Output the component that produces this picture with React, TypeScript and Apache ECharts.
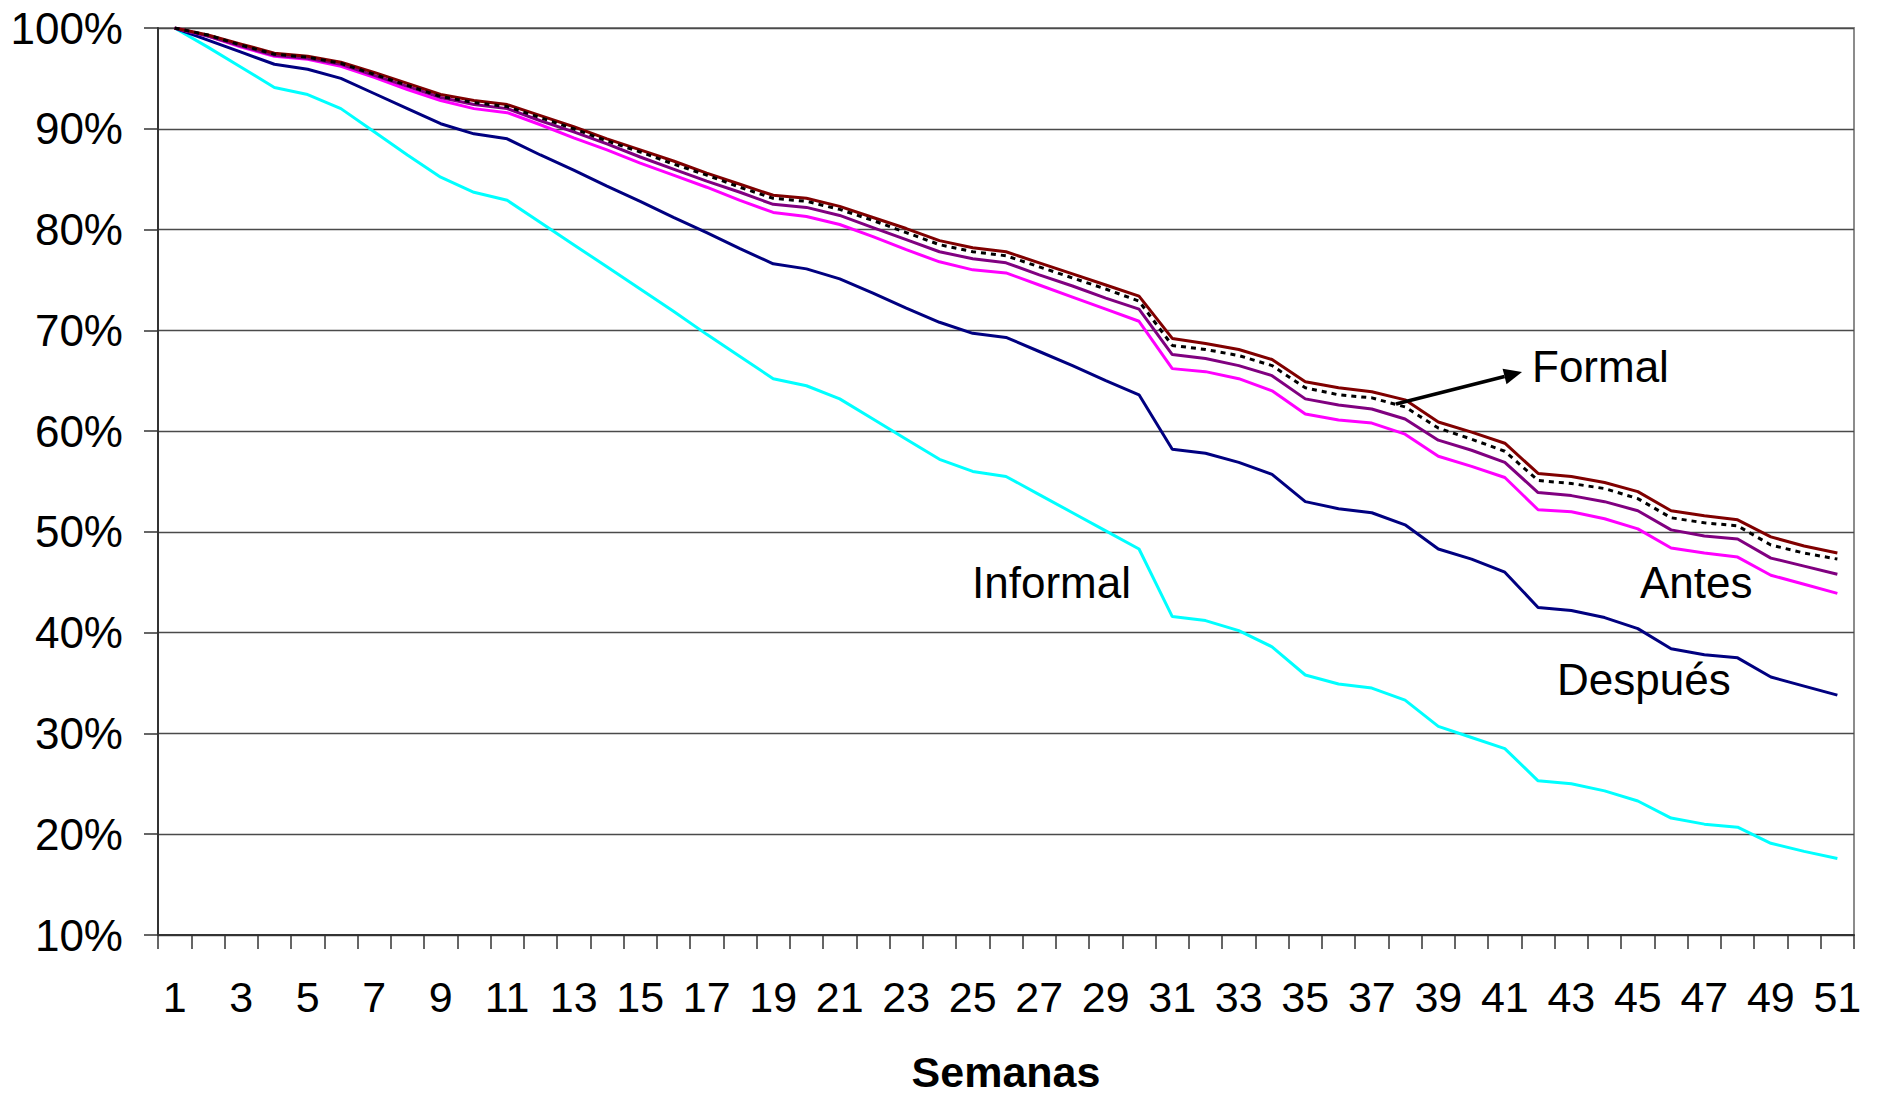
import React, { useEffect, useRef } from "react";
import * as echarts from "echarts";

const weeks: string[] = Array.from({ length: 51 }, (_, i) => String(i + 1));

const yTicks = [10, 20, 30, 40, 50, 60, 70, 80, 90, 100];

const serieRojo = [
  100, 99.3, 98.4, 97.5, 97.2, 96.6, 95.6, 94.5, 93.4, 92.8,
  92.4, 91.3, 90.2, 89.0, 87.9, 86.8, 85.6, 84.5, 83.4, 83.1,
  82.3, 81.2, 80.1, 78.9, 78.2, 77.8, 76.7, 75.6, 74.5, 73.4,
  69.2, 68.7, 68.1, 67.1, 64.9, 64.3, 63.9, 63.1, 60.9, 59.9,
  58.8, 55.8, 55.5, 54.9, 54.0, 52.1, 51.6, 51.2, 49.5, 48.6, 47.9,
];

const serieFormal = [
  100, 99.3, 98.3, 97.4, 97.1, 96.5, 95.4, 94.3, 93.2, 92.6,
  92.2, 91.1, 90.0, 88.8, 87.7, 86.5, 85.4, 84.2, 83.1, 82.8,
  82.0, 80.9, 79.7, 78.5, 77.8, 77.4, 76.3, 75.2, 74.1, 72.9,
  68.5, 68.1, 67.5, 66.5, 64.3, 63.6, 63.3, 62.4, 60.3, 59.2,
  58.0, 55.1, 54.8, 54.3, 53.3, 51.4, 50.9, 50.6, 48.7, 47.9, 47.3,
];

const seriePurpura = [
  100, 99.2, 98.2, 97.3, 97.0, 96.4, 95.3, 94.2, 93.1, 92.4,
  92.0, 90.8, 89.7, 88.5, 87.2, 86.0, 84.8, 83.7, 82.5, 82.2,
  81.4, 80.2, 79.0, 77.8, 77.1, 76.7, 75.5, 74.4, 73.2, 72.1,
  67.6, 67.2, 66.5, 65.5, 63.2, 62.6, 62.2, 61.2, 59.1, 58.1,
  56.9, 53.9, 53.6, 53.0, 52.1, 50.2, 49.6, 49.3, 47.4, 46.6, 45.8,
];

const serieAntes = [
  100, 99.2, 98.1, 97.2, 96.9, 96.2, 95.1, 93.9, 92.8, 92.0,
  91.6, 90.4, 89.1, 87.9, 86.6, 85.4, 84.2, 82.9, 81.7, 81.3,
  80.5, 79.3, 78.0, 76.8, 76.0, 75.7, 74.5, 73.3, 72.1, 70.9,
  66.2, 65.9, 65.2, 64.0, 61.7, 61.1, 60.8, 59.7, 57.5, 56.5,
  55.4, 52.2, 52.0, 51.3, 50.3, 48.4, 47.9, 47.5, 45.7, 44.8, 43.9,
];

const serieDespues = [
  100, 98.8, 97.6, 96.4, 95.9, 95.0, 93.5, 92.0, 90.5, 89.5,
  89.0, 87.4, 85.9, 84.3, 82.8, 81.2, 79.7, 78.1, 76.6, 76.1,
  75.1, 73.7, 72.2, 70.8, 69.7, 69.3, 67.9, 66.5, 65.0, 63.6,
  58.2, 57.8, 56.9, 55.7, 53.0, 52.3, 51.9, 50.7, 48.3, 47.3,
  46.0, 42.5, 42.2, 41.5, 40.4, 38.4, 37.8, 37.5, 35.6, 34.7, 33.8,
];

const serieInformal = [
  100, 98.1, 96.1, 94.1, 93.4, 92.0, 89.7, 87.4, 85.2, 83.7,
  82.9, 80.7, 78.5, 76.3, 74.1, 71.9, 69.6, 67.4, 65.2, 64.5,
  63.2, 61.2, 59.2, 57.2, 56.0, 55.5, 53.7, 51.9, 50.1, 48.3,
  41.6, 41.2, 40.2, 38.6, 35.8, 34.9, 34.5, 33.3, 30.7, 29.6,
  28.5, 25.3, 25.0, 24.3, 23.3, 21.6, 21.0, 20.7, 19.1, 18.3, 17.6,
];

const FONT = "'Liberation Sans', Arial, Helvetica, sans-serif";

export default function App() {
  const ref = useRef<HTMLDivElement>(null);

  useEffect(() => {
    document.body.style.margin = "0";
    if (!ref.current) return;
    const chart = echarts.init(ref.current, undefined, { renderer: "svg" });

    const line = (name: string, data: number[], color: string, width: number, type: any = "solid", z = 2) => ({
      name,
      type: "line",
      data,
      showSymbol: false,
      symbol: "none",
      z,
      lineStyle: { color, width, type },
      emphasis: { disabled: true },
    });

    const tip = [1522, 372];
    const tail = [1396, 404];
    const dx = tip[0] - tail[0];
    const dy = tip[1] - tail[1];
    const len = Math.sqrt(dx * dx + dy * dy);
    const ux = dx / len, uy = dy / len;
    const nx = -uy, ny = ux;
    const hl = 18, hw = 8;
    const bx = tip[0] - hl * ux, by = tip[1] - hl * uy;

    chart.setOption({
      animation: false,
      backgroundColor: "#ffffff",
      grid: {
        left: 158,
        right: 25,
        top: 28,
        bottom: 164,
        show: true,
        borderColor: "#8c8c8c",
        borderWidth: 2,
      },
      xAxis: {
        type: "category",
        data: weeks,
        boundaryGap: true,
        axisLine: { lineStyle: { color: "#333333", width: 2 } },
        axisTick: { show: true, interval: 0, length: 14, lineStyle: { color: "#333333", width: 1.5 } },
        axisLabel: {
          interval: 1,
          color: "#000000",
          fontFamily: FONT,
          fontSize: 43,
          margin: 40,
        },
        splitLine: { show: false },
      },
      yAxis: {
        type: "value",
        min: yTicks[0],
        max: yTicks[yTicks.length - 1],
        interval: 10,
        axisLine: { show: true, lineStyle: { color: "#333333", width: 2 } },
        axisTick: { show: true, length: 14, lineStyle: { color: "#333333", width: 1.5 } },
        axisLabel: {
          color: "#000000",
          fontFamily: FONT,
          fontSize: 44,
          margin: 35,
          formatter: (v: number) => v + "%",
        },
        splitLine: { show: true, lineStyle: { color: "#4a4a4a", width: 1.3 } },
      },
      series: [
        line("Informal", serieInformal, "#00ffff", 3),
        line("Después", serieDespues, "#000080", 3),
        line("Antes", serieAntes, "#ff00ff", 3),
        line("Purpura", seriePurpura, "#800080", 3),
        line("Rojo", serieRojo, "#800000", 3),
        line("Formal", serieFormal, "#000000", 3, [5, 5], 3),
      ],
      graphic: [
        {
          type: "text",
          x: 1532,
          y: 366,
          style: { text: "Formal", fill: "#000", font: `44px ${FONT}`, textAlign: "left", textVerticalAlign: "middle" },
        },
        {
          type: "text",
          x: 972,
          y: 582,
          style: { text: "Informal", fill: "#000", font: `44px ${FONT}`, textAlign: "left", textVerticalAlign: "middle" },
        },
        {
          type: "text",
          x: 1640,
          y: 582,
          style: { text: "Antes", fill: "#000", font: `44px ${FONT}`, textAlign: "left", textVerticalAlign: "middle" },
        },
        {
          type: "text",
          x: 1557,
          y: 679,
          style: { text: "Después", fill: "#000", font: `44px ${FONT}`, textAlign: "left", textVerticalAlign: "middle" },
        },
        {
          type: "text",
          x: 1006,
          y: 1072,
          style: { text: "Semanas", fill: "#000", font: `bold 43px ${FONT}`, textAlign: "center", textVerticalAlign: "middle" },
        },
        {
          type: "line",
          shape: { x1: tail[0], y1: tail[1], x2: bx, y2: by },
          style: { stroke: "#000", lineWidth: 3.5 },
          z: 10,
        },
        {
          type: "polygon",
          shape: { points: [[tip[0], tip[1]], [bx + hw * nx, by + hw * ny], [bx - hw * nx, by - hw * ny]] },
          style: { fill: "#000" },
          z: 10,
        },
      ],
    });

    return () => chart.dispose();
  }, []);

  return <div ref={ref} style={{ width: 1879, height: 1099 }} />;
}
